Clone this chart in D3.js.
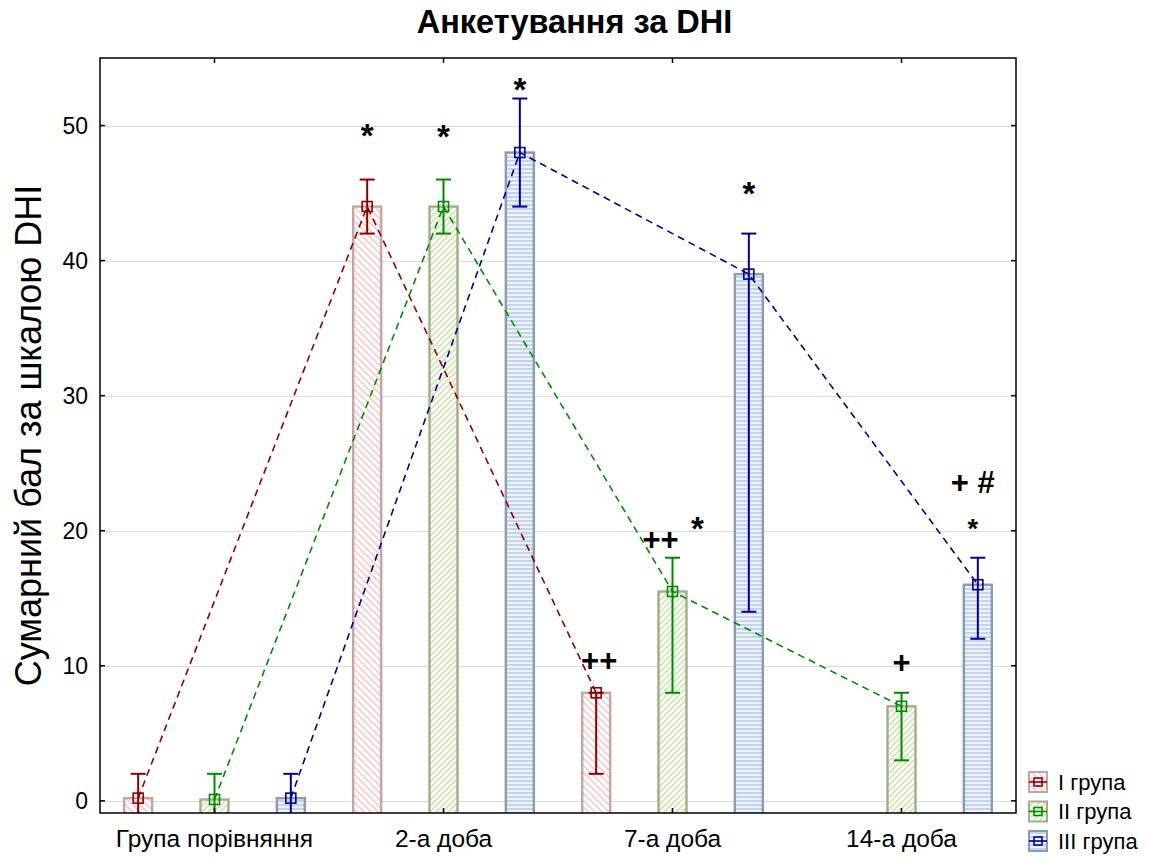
<!DOCTYPE html>
<html>
<head>
<meta charset="utf-8">
<script src="https://cdn.jsdelivr.net/npm/d3@7"></script>
<style>
  body { margin: 0; background: #fff; }
  text { font-family: "Liberation Sans", Arial, sans-serif; }
</style>
</head>
<body>
<script>
// categories and groups
var categories = ["Група порівняння", "2-а доба", "7-а доба", "14-а доба"];
var groups = ["I група", "II група", "III група"];

// mean values per group (rows) and category (columns); null = no data
var means = [
    [0.2, 44, 8, null],
    [0.1, 44, 15.5, 7],
    [0.2, 48, 39, 16]
];
var lower = [
    [-1.6, 42, 2, null],
    [-1.8, 42, 8, 3],
    [-1.6, 44, 14, 12]
];
var upper = [
    [2, 46, 8, null],
    [2, 46, 18, 8],
    [2, 52, 42, 18]
];

var yTicks = [0, 10, 20, 30, 40, 50];

// significance marks: category index, group index, value at the mark centre, shift in px
var marks = [
    { text: "*", cat: 1, grp: 0, v: 49.6, dx: 0, big: true },
    { text: "*", cat: 1, grp: 1, v: 49.5, dx: 0, big: true },
    { text: "*", cat: 1, grp: 2, v: 53.0, dx: 0, big: true },
    { text: "++", cat: 2, grp: 0, v: 10.4, dx: 3, big: true },
    { text: "++", cat: 2, grp: 1, v: 19.4, dx: -12, big: true },
    { text: "*", cat: 2, grp: 1, v: 20.5, dx: 25, big: true },
    { text: "*", cat: 2, grp: 2, v: 45.3, dx: 0, big: true },
    { text: "+", cat: 3, grp: 1, v: 10.3, dx: 0, big: true },
    { text: "+ #", cat: 3, grp: 2, v: 23.6, dx: -5, big: true },
    { text: "*", cat: 3, grp: 2, v: 20.4, dx: -5, big: false }
];

var lineColors = ["#8e0000", "#008a00", "#00008e"];
var barStrokes = ["#c4a4a4", "#a2ae88", "#8a9ab4"];

var W = 1149, H = 857;
var pL = 100, pR = 1016, pT = 58, pB = 813;

var svg = d3.select("body").append("svg")
        .attr("width", W)
        .attr("height", H);

// hatch patterns for the bars
var defs = svg.append("defs");
var p0 = defs.append("pattern").attr("id", "pat0")
        .attr("patternUnits", "userSpaceOnUse")
        .attr("width", 7).attr("height", 7);
p0.append("rect").attr("width", 7).attr("height", 7).attr("fill", "#fff");
p0.append("path").attr("d", "M-1,-1 L8,8 M-1,6 L1,8 M6,-1 L8,1")
        .attr("stroke", "#f4cccc").attr("stroke-width", 1.6);

var p1 = defs.append("pattern").attr("id", "pat1")
        .attr("patternUnits", "userSpaceOnUse")
        .attr("width", 6).attr("height", 6);
p1.append("rect").attr("width", 6).attr("height", 6).attr("fill", "#fff");
p1.append("path").attr("d", "M-1,7 L7,-1 M-1,1 L1,-1 M5,7 L7,5")
        .attr("stroke", "#d4e4b8").attr("stroke-width", 1.8);

var p2 = defs.append("pattern").attr("id", "pat2")
        .attr("patternUnits", "userSpaceOnUse")
        .attr("width", 4).attr("height", 4);
p2.append("rect").attr("width", 4).attr("height", 4).attr("fill", "#eef3fa");
p2.append("rect").attr("y", 0).attr("width", 4).attr("height", 2).attr("fill", "#c2d3ea");

defs.append("clipPath").attr("id", "plotclip")
        .append("rect")
        .attr("x", pL).attr("y", pT)
        .attr("width", pR - pL).attr("height", pB - pT);

//scales
var x = d3.scaleBand().domain(categories).range([pL, pR]).padding(0);
var xg = d3.scaleBand().domain(groups).range([0, x.bandwidth()]).padding(0);
var y = d3.scaleLinear().domain([-0.9, 55]).range([pB, pT]);

function cx(ci, gi) {
    return x(categories[ci]) + xg(groups[gi]) + xg.bandwidth() / 2;
}

// grid
svg.append("g")
        .selectAll("line")
        .data(yTicks)
        .enter().append("line")
        .attr("x1", pL).attr("x2", pR)
        .attr("y1", function(d) { return Math.round(y(d)) + 0.5; })
        .attr("y2", function(d) { return Math.round(y(d)) + 0.5; })
        .attr("stroke", "#dadada")
        .attr("stroke-width", 1.2);

var plot = svg.append("g").attr("clip-path", "url(#plotclip)");

function seriesPoints(gi) {
    var pts = [];
    means[gi].forEach(function(v, ci) {
        if (v !== null) pts.push({ ci: ci, v: v, lo: lower[gi][ci], hi: upper[gi][ci] });
    });
    return pts;
}

// bars
var barW = 28;
groups.forEach(function(g, gi) {
    plot.append("g")
            .selectAll("rect")
            .data(seriesPoints(gi))
            .enter().append("rect")
            .attr("x", function(d) { return cx(d.ci, gi) - barW / 2; })
            .attr("y", function(d) { return y(d.v); })
            .attr("width", barW)
            .attr("height", function(d) { return pB + 2 - y(d.v); })
            .attr("fill", "url(#pat" + gi + ")")
            .attr("stroke", barStrokes[gi])
            .attr("stroke-width", 2.4);
});

// dashed lines
groups.forEach(function(g, gi) {
    var line = d3.line()
            .x(function(d) { return cx(d.ci, gi); })
            .y(function(d) { return y(d.v); });
    plot.append("path")
            .datum(seriesPoints(gi))
            .attr("d", line)
            .attr("fill", "none")
            .attr("stroke", lineColors[gi])
            .attr("stroke-width", 1.6)
            .attr("stroke-dasharray", "7,5");
});

// error bars and markers
var capW = 15, sq = 10;
groups.forEach(function(g, gi) {
    var pts = seriesPoints(gi);
    var eg = plot.append("g")
            .attr("stroke", lineColors[gi])
            .attr("stroke-width", 2)
            .attr("fill", "none");
    eg.selectAll(".stem").data(pts).enter().append("line")
            .attr("x1", function(d) { return cx(d.ci, gi); })
            .attr("x2", function(d) { return cx(d.ci, gi); })
            .attr("y1", function(d) { return y(d.lo); })
            .attr("y2", function(d) { return y(d.hi); });
    eg.selectAll(".capHi").data(pts).enter().append("line")
            .attr("x1", function(d) { return cx(d.ci, gi) - capW / 2; })
            .attr("x2", function(d) { return cx(d.ci, gi) + capW / 2; })
            .attr("y1", function(d) { return y(d.hi); })
            .attr("y2", function(d) { return y(d.hi); });
    eg.selectAll(".capLo").data(pts).enter().append("line")
            .attr("x1", function(d) { return cx(d.ci, gi) - capW / 2; })
            .attr("x2", function(d) { return cx(d.ci, gi) + capW / 2; })
            .attr("y1", function(d) { return y(d.lo); })
            .attr("y2", function(d) { return y(d.lo); });
    eg.selectAll(".sq").data(pts).enter().append("rect")
            .attr("x", function(d) { return cx(d.ci, gi) - sq / 2; })
            .attr("y", function(d) { return y(d.v) - sq / 2; })
            .attr("width", sq).attr("height", sq)
            .attr("stroke-width", 1.6);
});

// frame and ticks
svg.append("rect")
        .attr("x", pL).attr("y", pT)
        .attr("width", pR - pL).attr("height", pB - pT)
        .attr("fill", "none")
        .attr("stroke", "#000")
        .attr("stroke-width", 1.5);

var tk = svg.append("g").attr("stroke", "#000").attr("stroke-width", 1.5);
yTicks.forEach(function(t) {
    tk.append("line").attr("x1", pL).attr("x2", pL + 5)
            .attr("y1", y(t)).attr("y2", y(t));
    tk.append("line").attr("x1", pR - 5).attr("x2", pR)
            .attr("y1", y(t)).attr("y2", y(t));
});
categories.forEach(function(c) {
    var xc = x(c) + x.bandwidth() / 2;
    tk.append("line").attr("x1", xc).attr("x2", xc)
            .attr("y1", pB).attr("y2", pB - 5);
    tk.append("line").attr("x1", xc).attr("x2", xc)
            .attr("y1", pT).attr("y2", pT + 5);
});

// tick labels
svg.append("g")
        .selectAll("text")
        .data(yTicks)
        .enter().append("text")
        .attr("x", 88)
        .attr("y", function(d) { return y(d); })
        .attr("dy", "0.35em")
        .attr("text-anchor", "end")
        .attr("font-size", 23)
        .text(function(d) { return d; });

svg.append("g")
        .selectAll("text")
        .data(categories)
        .enter().append("text")
        .attr("x", function(d) { return x(d) + x.bandwidth() / 2; })
        .attr("y", 847)
        .attr("text-anchor", "middle")
        .attr("font-size", 24.5)
        .text(function(d) { return d; });

// significance marks
svg.append("g")
        .selectAll("text")
        .data(marks)
        .enter().append("text")
        .attr("x", function(d) { return cx(d.cat, d.grp) + d.dx; })
        .attr("y", function(d) { return y(d.v); })
        .attr("dy", function(d) { return d.text === "*" ? "0.48em" : "0.35em"; })
        .attr("text-anchor", "middle")
        .attr("font-weight", "bold")
        .attr("font-size", function(d) {
            if (!d.big) return 27;
            return d.text === "*" ? 33 : 31;
        })
        .text(function(d) { return d.text; });

// titles
svg.append("text")
        .attr("x", W / 2)
        .attr("y", 33)
        .attr("text-anchor", "middle")
        .attr("font-weight", "bold")
        .attr("font-size", 32.5)
        .text("Анкетування за DHI");

svg.append("text")
        .attr("transform", "translate(41," + ((pT + pB) / 2) + ") rotate(-90)")
        .attr("text-anchor", "middle")
        .attr("font-size", 36)
        .text("Сумарний бал за шкалою DHI");

// legend
var lg = svg.append("g");
groups.forEach(function(g, gi) {
    var ly = 782 + gi * 29.5;
    lg.append("rect")
            .attr("x", 1029).attr("y", ly - 10)
            .attr("width", 18).attr("height", 20)
            .attr("fill", "url(#pat" + gi + ")")
            .attr("stroke", barStrokes[gi])
            .attr("stroke-width", 2);
    lg.append("line")
            .attr("x1", 1029).attr("x2", 1047)
            .attr("y1", ly).attr("y2", ly)
            .attr("stroke", lineColors[gi])
            .attr("stroke-width", 1.6);
    lg.append("rect")
            .attr("x", 1034).attr("y", ly - 4)
            .attr("width", 8).attr("height", 8)
            .attr("fill", "none")
            .attr("stroke", lineColors[gi])
            .attr("stroke-width", 1.6);
    lg.append("text")
            .attr("x", 1058)
            .attr("y", ly)
            .attr("dy", "0.35em")
            .attr("font-size", 22)
            .text(g);
});
</script>
</body>
</html>
